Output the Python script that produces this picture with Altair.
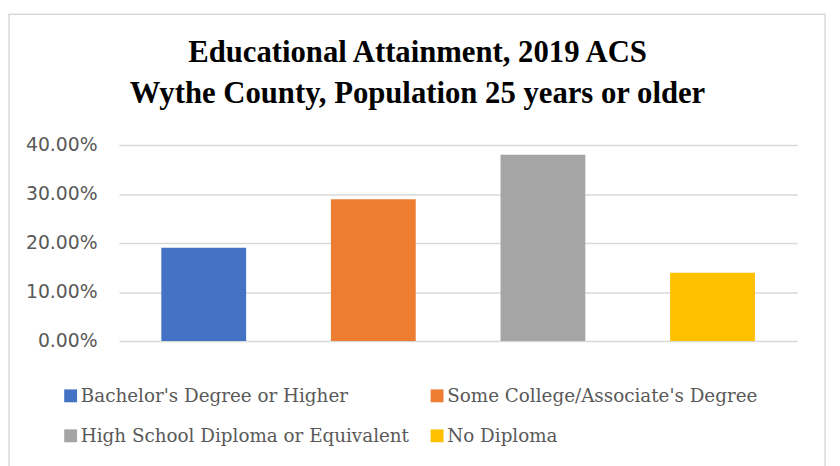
import altair as alt
import pandas as pd

categories = [
    "Bachelor's Degree or Higher",
    "Some College/Associate's Degree",
    "High School Diploma or Equivalent",
    "No Diploma",
]
values = [0.19, 0.289, 0.38, 0.139]
colors = ["#4472C4", "#ED7D31", "#A5A5A5", "#FFC000"]
y_ticks = [0.0, 0.1, 0.2, 0.3, 0.4]
title_lines = ["Educational Attainment, 2019 ACS", "Wythe County, Population 25 years or older"]

df = pd.DataFrame({"category": categories, "value": values})

bars = alt.Chart(df).mark_bar().encode(
    x=alt.X("category:N", sort=categories, axis=None,
            scale=alt.Scale(paddingInner=0.5, paddingOuter=0.25)),
    y=alt.Y("value:Q",
            scale=alt.Scale(domain=[0, 0.4], nice=False),
            axis=alt.Axis(values=y_ticks, format=".2%", title=None,
                          domain=False, ticks=False, labelPadding=22,
                          labelFont="DejaVu Sans", labelFontSize=19, labelColor="#595959",
                          gridColor="#D9D9D9", gridWidth=1.5)),
    color=alt.Color("category:N", sort=categories,
                    scale=alt.Scale(domain=categories, range=colors),
                    legend=alt.Legend(title=None, orient="none", legendX=-58, legendY=244,
                                      direction="horizontal", columns=2,
                                      symbolType="square", symbolSize=169,
                                      symbolStrokeWidth=0, labelOffset=1,
                                      labelFont="DejaVu Serif", labelFontSize=18.5,
                                      labelColor="#595959", columnPadding=18,
                                      rowPadding=21.5, padding=0, labelLimit=400)),
)

frame = alt.Chart(pd.DataFrame({"a": [0]})).mark_rect(
    fill=None, stroke="#D9D9D9", strokeWidth=1.5
).encode(
    x=alt.value(-111), x2=alt.value(713), y=alt.value(-132), y2=alt.value(340)
)

chart = alt.layer(frame, bars).properties(
    width=685,
    height=198,
    autosize=alt.AutoSizeParams(type="none"),
    padding={"left": 112, "top": 136, "right": 35, "bottom": 124},
    title=alt.TitleParams(text=title_lines, anchor="middle", dx=-41, frame="group",
                          baseline="bottom",
                          font="Liberation Serif", fontSize=31, fontWeight="bold",
                          color="#000000", lineHeight=41, offset=-128),
).configure(background="white").configure_view(strokeWidth=0)

chart.save("out.html", embed_options={"renderer": "svg", "actions": False})
